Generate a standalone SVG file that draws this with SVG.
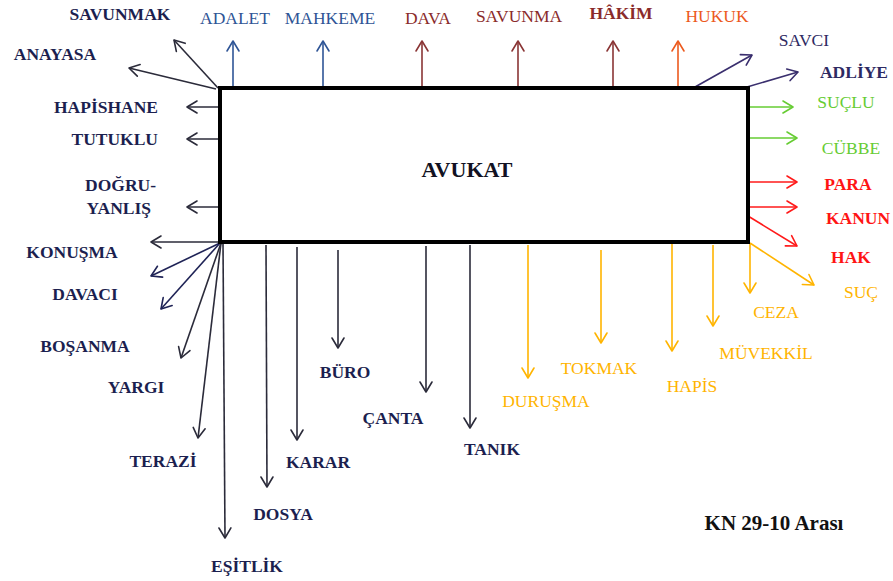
<svg xmlns="http://www.w3.org/2000/svg" width="893" height="581" viewBox="0 0 893 581">
  <style>
    text { font-family: 'Liberation Serif', 'DejaVu Serif', serif; font-size: 17.5px; }
    .b { font-weight: bold; }
    .navy { fill: #1c1f4f; }
    .blue { fill: #2f5596; }
    .dred { fill: #8a2b2b; }
    .hukuk { fill: #ec5a1e; }
    .purple { fill: #2e2a62; }
    .green { fill: #66cc33; }
    .red { fill: #ff1414; }
    .orange { fill: #ffb400; }
    .line { fill: none; stroke-width: 1.6; }
    .head { fill: none; stroke-width: 1.6; stroke-linecap: round; stroke-linejoin: round; }
  </style>
  <defs>
    <marker id="m-dark" markerUnits="userSpaceOnUse" markerWidth="24" markerHeight="24" viewBox="-12 -12 24 24" refX="0" refY="0" orient="auto"><path class="head" d="M-10,-6 L0,0 L-10,6" stroke="#2b2b3a"/></marker>
    <marker id="m-navy" markerUnits="userSpaceOnUse" markerWidth="24" markerHeight="24" viewBox="-12 -12 24 24" refX="0" refY="0" orient="auto"><path class="head" d="M-10,-6 L0,0 L-10,6" stroke="#1f2356"/></marker>
    <marker id="m-blue" markerUnits="userSpaceOnUse" markerWidth="24" markerHeight="24" viewBox="-12 -12 24 24" refX="0" refY="0" orient="auto"><path class="head" d="M-10,-6 L0,0 L-10,6" stroke="#2f5596"/></marker>
    <marker id="m-dred" markerUnits="userSpaceOnUse" markerWidth="24" markerHeight="24" viewBox="-12 -12 24 24" refX="0" refY="0" orient="auto"><path class="head" d="M-10,-6 L0,0 L-10,6" stroke="#8a3535"/></marker>
    <marker id="m-hukuk" markerUnits="userSpaceOnUse" markerWidth="24" markerHeight="24" viewBox="-12 -12 24 24" refX="0" refY="0" orient="auto"><path class="head" d="M-10,-6 L0,0 L-10,6" stroke="#ec5a1e"/></marker>
    <marker id="m-purple" markerUnits="userSpaceOnUse" markerWidth="24" markerHeight="24" viewBox="-12 -12 24 24" refX="0" refY="0" orient="auto"><path class="head" d="M-10,-6 L0,0 L-10,6" stroke="#3a2f6e"/></marker>
    <marker id="m-green" markerUnits="userSpaceOnUse" markerWidth="24" markerHeight="24" viewBox="-12 -12 24 24" refX="0" refY="0" orient="auto"><path class="head" d="M-10,-6 L0,0 L-10,6" stroke="#66cc33"/></marker>
    <marker id="m-red" markerUnits="userSpaceOnUse" markerWidth="24" markerHeight="24" viewBox="-12 -12 24 24" refX="0" refY="0" orient="auto"><path class="head" d="M-10,-6 L0,0 L-10,6" stroke="#ff1a1a"/></marker>
    <marker id="m-orange" markerUnits="userSpaceOnUse" markerWidth="24" markerHeight="24" viewBox="-12 -12 24 24" refX="0" refY="0" orient="auto"><path class="head" d="M-10,-6 L0,0 L-10,6" stroke="#ffb400"/></marker>
  </defs>

  <rect width="893" height="581" fill="#ffffff"/>

  <!-- connectors -->
  <g id="connectors">
    <!-- top -->
    <line class="line" x1="218" y1="88" x2="174" y2="40" stroke="#2b2b3a" marker-end="url(#m-dark)"/>
    <line class="line" x1="216" y1="89" x2="129" y2="68" stroke="#2b2b3a" marker-end="url(#m-dark)"/>
    <line class="line" x1="233" y1="88" x2="233" y2="41" stroke="#2f5596" marker-end="url(#m-blue)"/>
    <line class="line" x1="323" y1="88" x2="323" y2="41" stroke="#2f5596" marker-end="url(#m-blue)"/>
    <line class="line" x1="422" y1="88" x2="422" y2="41" stroke="#8a3535" marker-end="url(#m-dred)"/>
    <line class="line" x1="518" y1="88" x2="518" y2="41" stroke="#8a3535" marker-end="url(#m-dred)"/>
    <line class="line" x1="613" y1="88" x2="613" y2="41" stroke="#8a3535" marker-end="url(#m-dred)"/>
    <line class="line" x1="678" y1="88" x2="678" y2="41" stroke="#ec5a1e" marker-end="url(#m-hukuk)"/>
    <line class="line" x1="695" y1="87" x2="752" y2="55" stroke="#3a2f6e" marker-end="url(#m-purple)"/>
    <line class="line" x1="747" y1="87" x2="798" y2="72" stroke="#3a2f6e" marker-end="url(#m-purple)"/>
    <!-- left -->
    <line class="line" x1="220" y1="107" x2="187" y2="107" stroke="#2b2b3a" marker-end="url(#m-dark)"/>
    <line class="line" x1="220" y1="139" x2="187" y2="139" stroke="#2b2b3a" marker-end="url(#m-dark)"/>
    <line class="line" x1="220" y1="207" x2="187" y2="207" stroke="#2b2b3a" marker-end="url(#m-dark)"/>
    <line class="line" x1="220" y1="242" x2="151" y2="242" stroke="#2b2b3a" marker-end="url(#m-dark)"/>
    <!-- lower-left fan -->
    <line class="line" x1="220" y1="243" x2="151" y2="276" stroke="#1f2356" marker-end="url(#m-navy)"/>
    <line class="line" x1="220" y1="243" x2="161" y2="309" stroke="#1f2356" marker-end="url(#m-navy)"/>
    <line class="line" x1="221" y1="243" x2="181" y2="358" stroke="#2b2b3a" marker-end="url(#m-dark)"/>
    <line class="line" x1="221" y1="243" x2="198" y2="438" stroke="#2b2b3a" marker-end="url(#m-dark)"/>
    <line class="line" x1="223" y1="243" x2="225" y2="538" stroke="#2b2b3a" marker-end="url(#m-dark)"/>
    <!-- bottom -->
    <line class="line" x1="266" y1="245" x2="267" y2="487" stroke="#2b2b3a" marker-end="url(#m-dark)"/>
    <line class="line" x1="297" y1="247" x2="297" y2="440" stroke="#2b2b3a" marker-end="url(#m-dark)"/>
    <line class="line" x1="338" y1="250" x2="338" y2="348" stroke="#2b2b3a" marker-end="url(#m-dark)"/>
    <line class="line" x1="426" y1="246" x2="426" y2="392" stroke="#2b2b3a" marker-end="url(#m-dark)"/>
    <line class="line" x1="470" y1="245" x2="470" y2="428" stroke="#2b2b3a" marker-end="url(#m-dark)"/>
    <line class="line" x1="528" y1="245" x2="528" y2="378" stroke="#ffb400" marker-end="url(#m-orange)"/>
    <line class="line" x1="601" y1="250" x2="601" y2="343" stroke="#ffb400" marker-end="url(#m-orange)"/>
    <line class="line" x1="672" y1="244" x2="672" y2="351" stroke="#ffb400" marker-end="url(#m-orange)"/>
    <line class="line" x1="713" y1="245" x2="713" y2="326" stroke="#ffb400" marker-end="url(#m-orange)"/>
    <line class="line" x1="750" y1="243" x2="750" y2="293" stroke="#ffb400" marker-end="url(#m-orange)"/>
    <line class="line" x1="750" y1="243" x2="814" y2="285" stroke="#ffb400" marker-end="url(#m-orange)"/>
    <!-- right -->
    <line class="line" x1="744" y1="107" x2="793" y2="107" stroke="#66cc33" marker-end="url(#m-green)"/>
    <line class="line" x1="744" y1="138" x2="797" y2="138" stroke="#66cc33" marker-end="url(#m-green)"/>
    <line class="line" x1="748" y1="182" x2="797" y2="182" stroke="#ff1a1a" marker-end="url(#m-red)"/>
    <line class="line" x1="748" y1="207" x2="797" y2="207" stroke="#ff1a1a" marker-end="url(#m-red)"/>
    <line class="line" x1="748" y1="216" x2="797" y2="246" stroke="#ff1a1a" marker-end="url(#m-red)"/>
  </g>

  <!-- central node -->
  <g id="avukat">
    <rect x="220" y="88" width="528" height="154" fill="#ffffff" stroke="#000000" stroke-width="4"/>
    <text x="467" y="177" text-anchor="middle" class="b" style="font-size:22px" fill="#111122">AVUKAT</text>
  </g>

  <!-- top labels -->
  <g id="savunmak"><text x="120" y="20" text-anchor="middle" class="b navy">SAVUNMAK</text></g>
  <g id="anayasa"><text x="55" y="60" text-anchor="middle" class="b navy">ANAYASA</text></g>
  <g id="adalet"><text x="235" y="24" text-anchor="middle" class="blue">ADALET</text></g>
  <g id="mahkeme"><text x="330" y="24" text-anchor="middle" class="blue">MAHKEME</text></g>
  <g id="dava"><text x="428" y="24" text-anchor="middle" class="dred">DAVA</text></g>
  <g id="savunma"><text x="519" y="22" text-anchor="middle" class="dred">SAVUNMA</text></g>
  <g id="hakim"><text x="621" y="19" text-anchor="middle" class="b dred">HÂKİM</text></g>
  <g id="hukuk"><text x="717" y="22" text-anchor="middle" class="hukuk">HUKUK</text></g>
  <g id="savci"><text x="804" y="46" text-anchor="middle" class="purple">SAVCI</text></g>
  <g id="adliye"><text x="854" y="78" text-anchor="middle" class="b purple">ADLİYE</text></g>

  <!-- left labels -->
  <g id="hapishane"><text x="158" y="113" text-anchor="end" class="b navy">HAPİSHANE</text></g>
  <g id="tutuklu"><text x="158" y="145" text-anchor="end" class="b navy">TUTUKLU</text></g>
  <g id="dogru-yanlis">
    <text x="156" y="191" text-anchor="end" class="b navy">DOĞRU-</text>
    <text x="151" y="214" text-anchor="end" class="b navy">YANLIŞ</text>
  </g>
  <g id="konusma"><text x="72" y="258" text-anchor="middle" class="b navy">KONUŞMA</text></g>
  <g id="davaci"><text x="85" y="300" text-anchor="middle" class="b navy">DAVACI</text></g>
  <g id="bosanma"><text x="85" y="352" text-anchor="middle" class="b navy">BOŞANMA</text></g>
  <g id="yargi"><text x="136" y="393" text-anchor="middle" class="b navy">YARGI</text></g>
  <g id="terazi"><text x="163" y="467" text-anchor="middle" class="b navy">TERAZİ</text></g>
  <g id="esitlik"><text x="247" y="572" text-anchor="middle" class="b navy">EŞİTLİK</text></g>
  <g id="dosya"><text x="283" y="520" text-anchor="middle" class="b navy">DOSYA</text></g>
  <g id="karar"><text x="318" y="468" text-anchor="middle" class="b navy">KARAR</text></g>
  <g id="buro"><text x="345" y="378" text-anchor="middle" class="b navy">BÜRO</text></g>
  <g id="canta"><text x="393" y="424" text-anchor="middle" class="b navy">ÇANTA</text></g>
  <g id="tanik"><text x="492" y="455" text-anchor="middle" class="b navy">TANIK</text></g>

  <!-- lower-right labels -->
  <g id="durusma"><text x="546" y="407" text-anchor="middle" class="orange">DURUŞMA</text></g>
  <g id="tokmak"><text x="599" y="374" text-anchor="middle" class="orange">TOKMAK</text></g>
  <g id="hapis"><text x="692" y="392" text-anchor="middle" class="orange">HAPİS</text></g>
  <g id="muvekkil"><text x="766" y="359" text-anchor="middle" class="orange">MÜVEKKİL</text></g>
  <g id="ceza"><text x="776" y="318" text-anchor="middle" class="orange">CEZA</text></g>
  <g id="suc"><text x="861" y="298" text-anchor="middle" class="orange">SUÇ</text></g>

  <!-- right labels -->
  <g id="suclu"><text x="846" y="108" text-anchor="middle" class="green">SUÇLU</text></g>
  <g id="cubbe"><text x="851" y="154" text-anchor="middle" class="green">CÜBBE</text></g>
  <g id="para"><text x="848" y="190" text-anchor="middle" class="b red">PARA</text></g>
  <g id="kanun"><text x="858" y="224" text-anchor="middle" class="b red">KANUN</text></g>
  <g id="hak"><text x="851" y="263" text-anchor="middle" class="b red">HAK</text></g>

  <!-- caption -->
  <text x="774" y="530" text-anchor="middle" class="b" style="font-size:21px" fill="#111111">KN 29-10 Arası</text>
</svg>
